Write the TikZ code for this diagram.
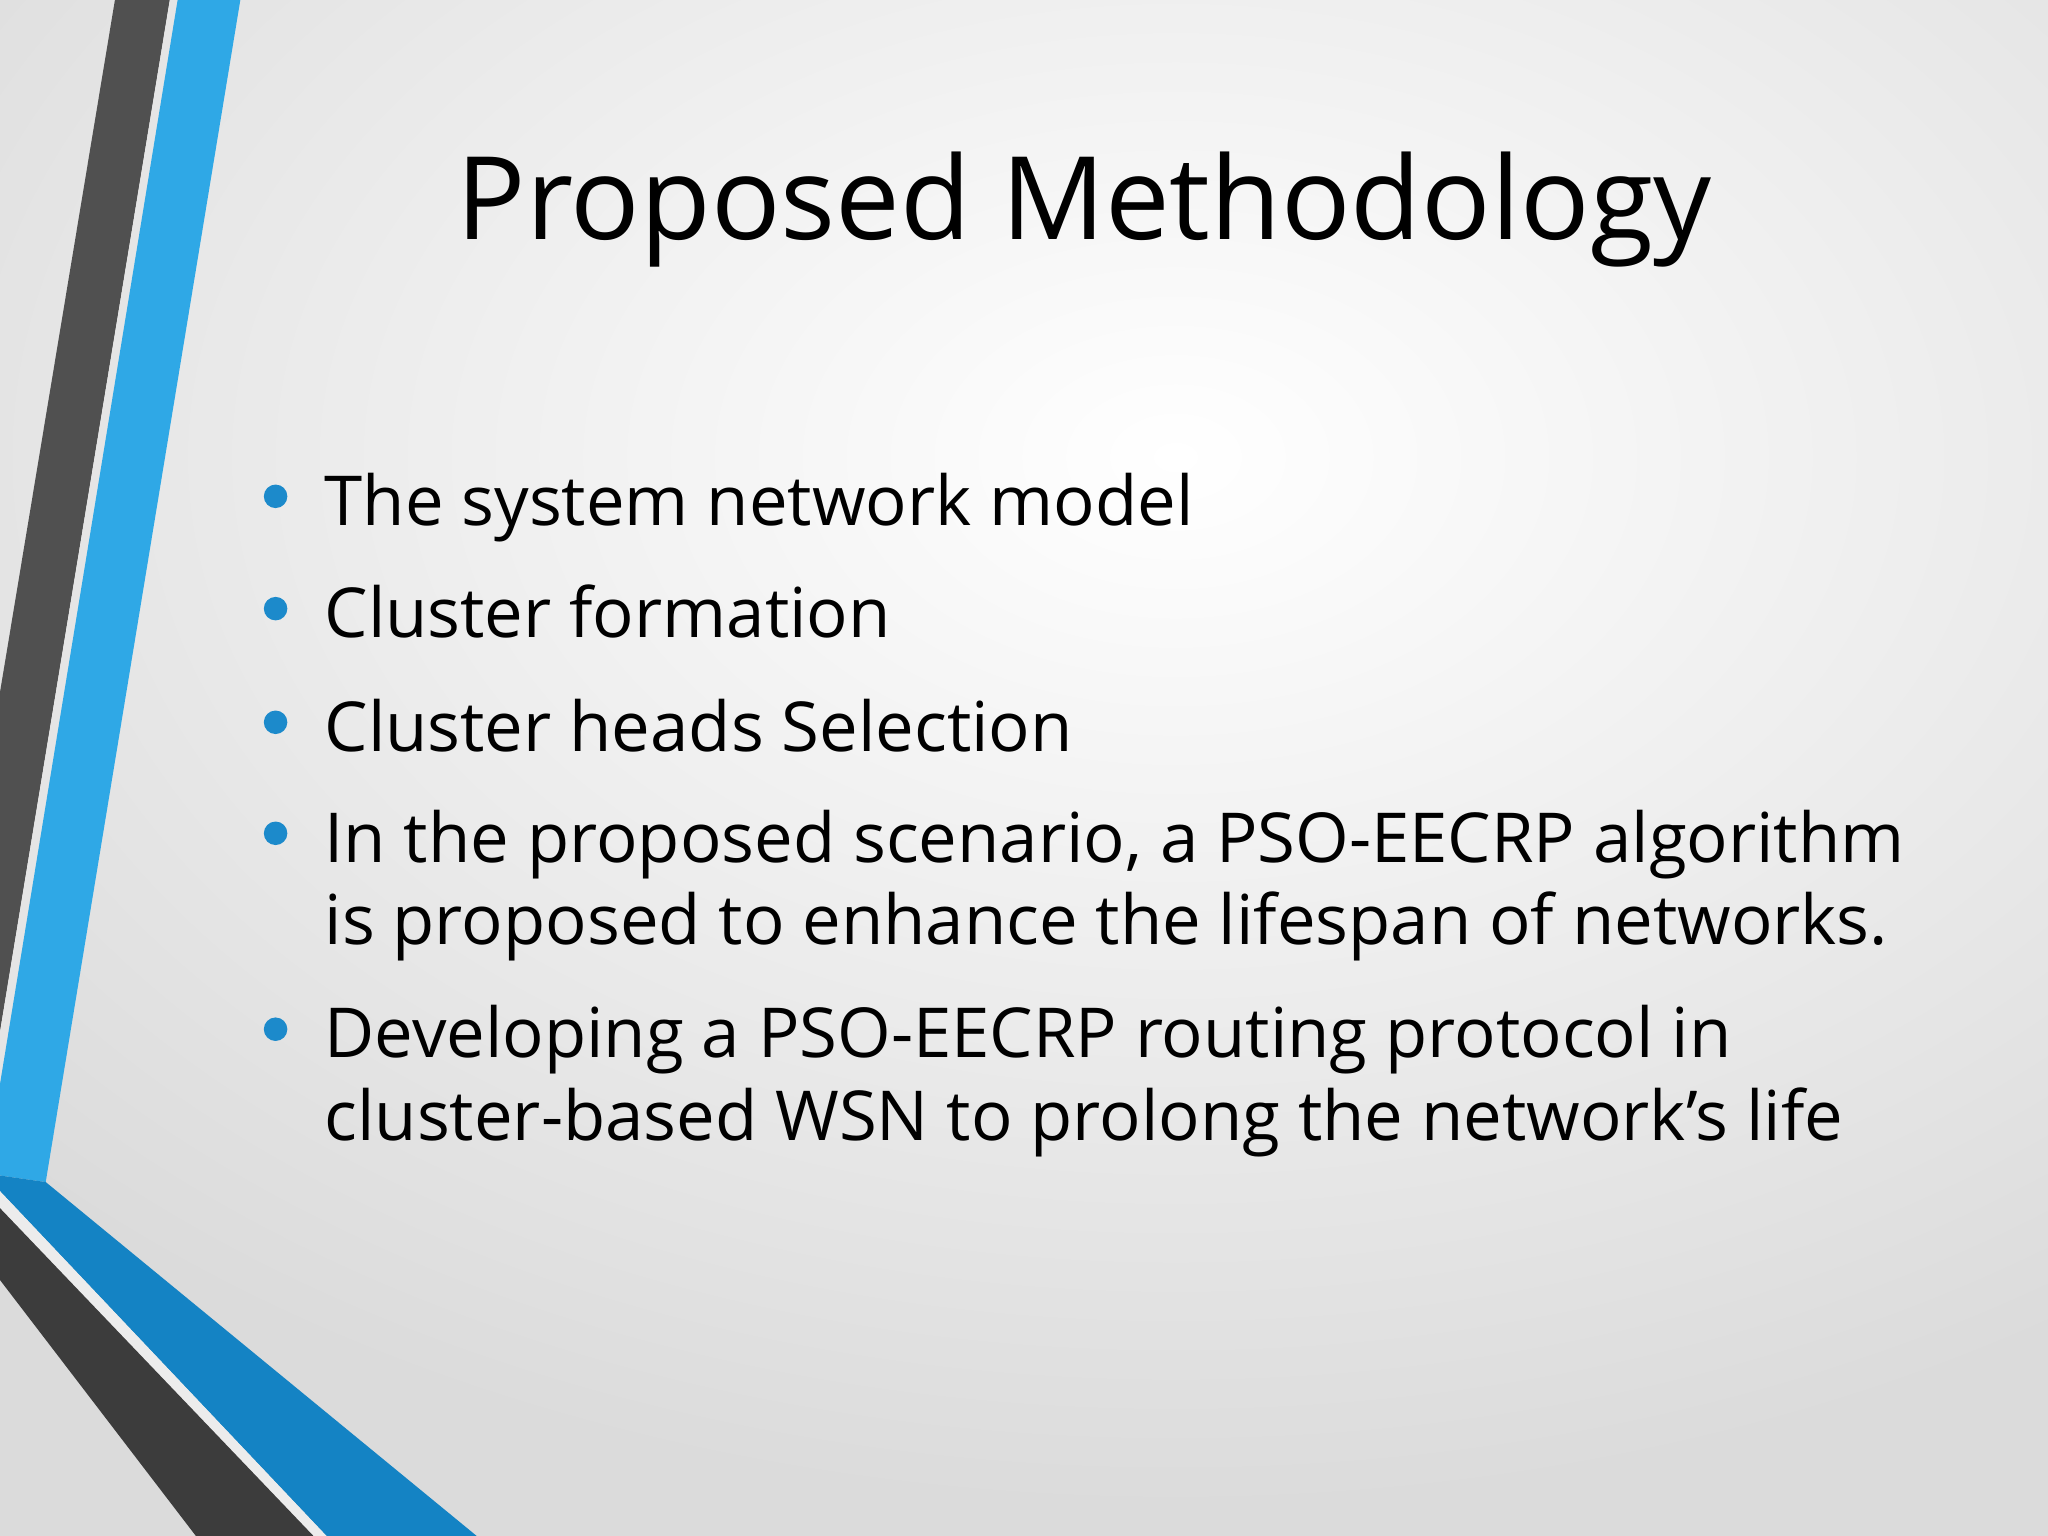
\documentclass[tikz,border=0pt]{standalone}
\usepackage{fontspec}
\setmainfont{Open Sans}
\definecolor{dk}{HTML}{505050}
\definecolor{dk2}{HTML}{3C3C3C}
\definecolor{bl}{HTML}{2FA8E6}
\definecolor{bl2}{HTML}{1483C4}
\definecolor{bul}{HTML}{1C8ACB}
\tikzset{body/.style={anchor=base west,font=\fontsize{19.6}{24}\selectfont,inner sep=0pt}}
\begin{document}
\begin{tikzpicture}[x=0.01306cm,y=-0.01306cm]
\useasboundingbox (0,0) rectangle (1568,1176);
\shade[inner color=white,outer color=gray!28] (-300,-450) rectangle (2100,1150);
\fill[gray!28] (-10,1149) rectangle (1580,1180);
% dark stripe top
\fill[dk] (88,0) -- (130,0) -- (0,790) -- (0,530) -- cycle;
\fill[gray!20] (130,0) -- (136,0) -- (0,830) -- (0,790) -- cycle;
% blue stripe
\fill[bl] (136,0) -- (184,0) -- (35,905) -- (0,900) -- (0,830) -- cycle;
% bottom
\fill[bl2] (0,900) -- (35,905) -- (365,1176) -- (250,1176) -- (0,912) -- cycle;
\fill[gray!15] (0,912) -- (250,1176) -- (240,1176) -- (0,925) -- cycle;
\fill[dk2] (0,925) -- (240,1176) -- (150,1176) -- (0,980) -- cycle;
\node[anchor=base,font=\fontsize{32.8}{38}\selectfont,inner sep=0pt] (title) at (830,183) {Proposed Methodology};
\foreach \y/\t [count=\i] in {402/The system network model,488/Cluster formation,575/Cluster heads Selection,660/{In the proposed scenario, a PSO-EECRP algorithm},810/Developing a PSO-EECRP routing protocol in}{
  \node[body] (l\i) at (248,\y) {\t};
  \fill[bul] (211,\y-22) circle (9);
}
\node[body] (l4b) at (248,723) {is proposed to enhance the lifespan of networks.};
\node[body] (l5b) at (248,873) {cluster-based WSN to prolong the network\char"0027 s life};
\end{tikzpicture}
\end{document}
